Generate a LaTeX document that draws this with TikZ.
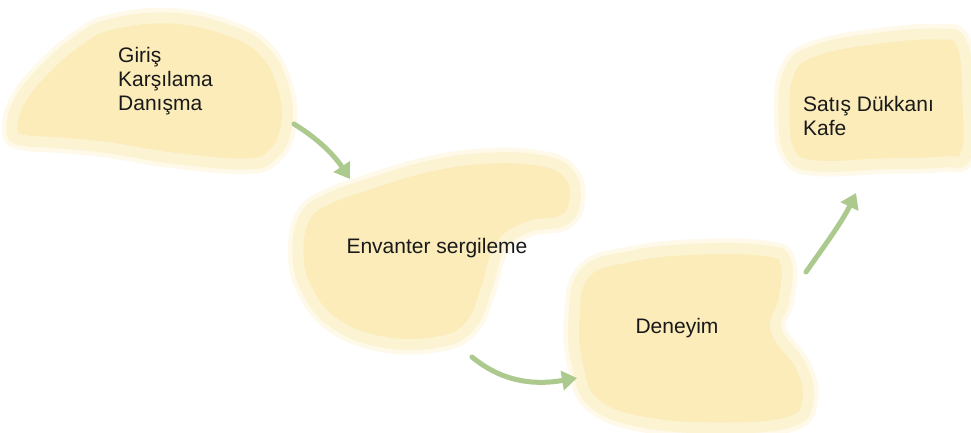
\documentclass[tikz,border=0pt]{standalone}
\usepackage{fontspec}
\setmainfont{Liberation Sans}
\usetikzlibrary{arrows.meta}
\definecolor{blobin}{RGB}{251,236,186}
\definecolor{blobout}{RGB}{252,243,211}
\definecolor{blobhalo}{RGB}{254,249,232}
\definecolor{arrgreen}{RGB}{172,201,142}
\tikzset{
  halo/.style={draw=blobhalo, line width=20pt, line join=round},
  blob/.style={fill=blobin, draw=blobout, line width=11pt, line join=round},
  lbl/.style={font=\fontsize{21}{24}\selectfont, text=black!90, inner sep=0pt},
  flow/.style={draw=arrgreen, line width=5pt, line cap=round,
    -{Triangle[length=15pt,width=19pt]}},
}
\newcommand{\blobA}{plot[smooth cycle, tension=0.7] coordinates {
 (112,24) (170,18) (228,30) (265,52) (284,90) (286,128) (272,155) (245,164)
 (172,158) (110,148) (60,143) (22,140) (12,130) (20,100) (48,66) (82,38)}}
\newcommand{\blobB}{plot[smooth cycle, tension=0.7] coordinates {
 (306,215) (330,198) (372,183) (430,166) (490,158) (543,161) (569,174) (575,199)
 (564,220) (528,227) (500,247) (486,290) (470,326) (438,342) (382,342) (334,323)
 (306,288) (298,250)}}
\newcommand{\blobC}{plot[smooth cycle, tension=0.7] coordinates {
 (585,273) (632,256) (700,249) (768,251) (786,263) (784,300) (776,330)
 (801,366) (808,400) (790,422) (720,428) (642,422) (594,403) (578,368) (574,320)}}
\newcommand{\blobD}{plot[smooth cycle, tension=0.7] coordinates {
 (789,72) (814,51) (872,39) (938,34) (962,44) (968,100) (966,155) (943,162)
 (880,164) (817,166) (791,155) (784,118)}}
\begin{document}
\begin{tikzpicture}[x=1pt,y=-1pt]
\useasboundingbox (0,0) rectangle (971,432);
\fill[white] (0,0) rectangle (971,432);
% halos
\path[halo] \blobA;
\path[halo] \blobB;
\path[halo] \blobC;
\path[halo] \blobD;
% blobs
\path[blob] \blobA;
\path[blob] \blobB;
\path[blob] \blobC;
\path[blob] \blobD;
% labels
\node[lbl, anchor=north west, align=left] (t1) at (118,47) {Giriş\\Karşılama\\Danışma};
\node[lbl, anchor=base] (t2) at (437,253) {Envanter sergileme};
\node[lbl, anchor=base] (t3) at (677,333) {Deneyim};
\node[lbl, anchor=north west, align=left] (t4) at (803,96) {Satış Dükkanı\\Kafe};
% arrow end points
\coordinate (a1s) at (294,124);
\coordinate (a1e) at (350,179);
\coordinate (a2s) at (472,357);
\coordinate (a2e) at (577,378);
\coordinate (a3s) at (806,272);
\coordinate (a3e) at (856,193);
\draw[flow] (a1s) .. controls (315,137) and (332,152) .. (a1e);
\draw[flow] (a2s) .. controls (500,380) and (530,386) .. (a2e);
\draw[flow] (a3s) .. controls (825,245) and (842,222) .. (a3e);
\end{tikzpicture}
\end{document}
